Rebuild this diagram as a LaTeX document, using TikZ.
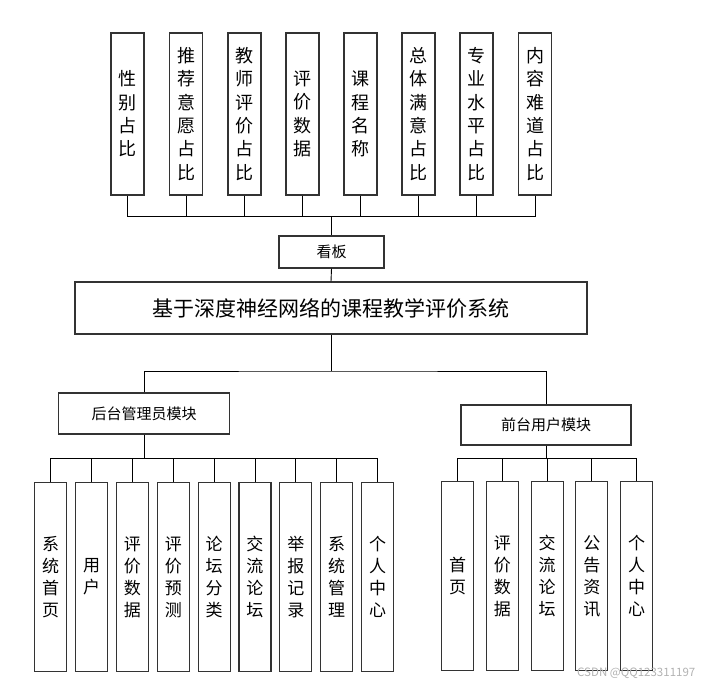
\documentclass[tikz,border=0pt]{standalone}
\usepackage{fontspec}
\setmainfont{Noto Sans CJK SC}
\begin{document}
\begin{tikzpicture}[x=1pt,y=-1pt,
  box/.style={draw=black!80,line width=1.1pt,inner sep=0pt,align=center,fill=white},
  topbox/.style={box,minimum width=33pt,minimum height=162pt,font=\fontsize{18}{23.3}\selectfont},
  botbox/.style={box,minimum width=32pt,minimum height=189pt,font=\fontsize{17}{22}\selectfont},
  conn/.style={draw=black,line width=0.9pt}]
\useasboundingbox (0,0) rectangle (722,686);
% top boxes
\node[topbox] (t1) at (127.5,114) {性\\别\\占\\比};
\node[topbox] (t2) at (186,114) {推\\荐\\意\\愿\\占\\比};
\node[topbox] (t3) at (244.5,114) {教\\师\\评\\价\\占\\比};
\node[topbox] (t4) at (302.5,114) {评\\价\\数\\据};
\node[topbox] (t5) at (360.5,114) {课\\程\\名\\称};
\node[topbox] (t6) at (418.5,114) {总\\体\\满\\意\\占\\比};
\node[topbox] (t7) at (476.5,114) {专\\业\\水\\平\\占\\比};
\node[topbox] (t8) at (535,114) {内\\容\\难\\道\\占\\比};
\node[box,minimum width=105pt,minimum height=32pt,font=\fontsize{15}{18}\selectfont] (kb) at (331.5,252) {看板};
\coordinate (bus) at (331.5,216);
\foreach \i in {1,...,8}{\draw[conn] (t\i.south) |- (bus);}
\draw[conn] (bus) -- (kb.north);
% main
\node[box,minimum width=512pt,minimum height=52pt,font=\fontsize{21}{24}\selectfont] (main) at (331,308) {基于深度神经网络的课程教学评价系统};
\draw[conn] (kb.south) -- (main.north);
\coordinate (mid) at (331,371);
\node[box,minimum width=171pt,minimum height=41pt,font=\fontsize{15}{18}\selectfont] (hou) at (144,413.5) {后台管理员模块};
\node[box,minimum width=170pt,minimum height=40pt,font=\fontsize{15}{18}\selectfont] (qian) at (546,425) {前台用户模块};
\draw[conn] (main.south) -- (mid);
\draw[conn] (hou.north) |- (mid) -| (qian.north);
% bottom left
\coordinate (lbus) at (144,458);
\draw[conn] (hou.south) -- (lbus);
\foreach \t [count=\i] in {系\\统\\首\\页,用\\户,评\\价\\数\\据,评\\价\\预\\测,论\\坛\\分\\类,交\\流\\论\\坛,举\\报\\记\\录,系\\统\\管\\理,个\\人\\中\\心}{
  \node[botbox] (l\i) at ({50.7+40.85*(\i-1)},577) {\t};
  \draw[conn] (l\i.north) |- (lbus);
}
% bottom right
\coordinate (rbus) at (546,458);
\draw[conn] (qian.south) -- (rbus);
\foreach \t [count=\i] in {首\\页,评\\价\\数\\据,交\\流\\论\\坛,公\\告\\资\\讯,个\\人\\中\\心}{
  \node[botbox] (r\i) at ({457.5+44.8*(\i-1)},576) {\t};
  \draw[conn] (r\i.north) |- (rbus);
}
\node[text=black!30,font=\fontsize{11.5}{13}\selectfont,anchor=west,inner sep=0pt] (wm) at (577,673) {CSDN @QQ123311197};
\end{tikzpicture}
\end{document}
